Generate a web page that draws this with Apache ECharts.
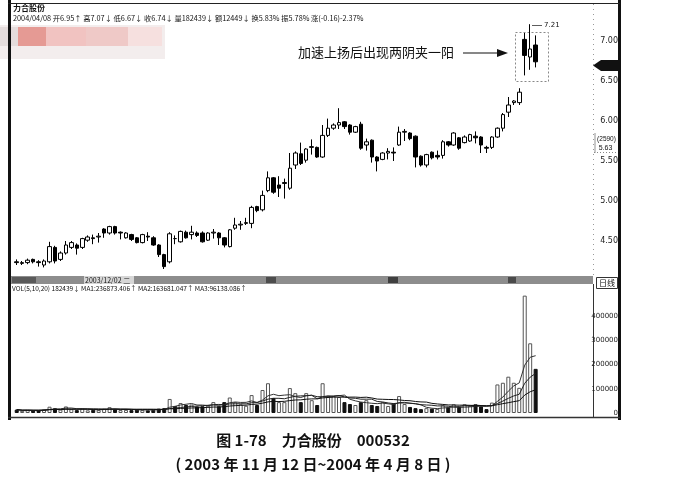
<!DOCTYPE html>
<html>
<head>
<meta charset="utf-8">
<script src="https://cdn.jsdelivr.net/npm/echarts/dist/echarts.min.js"></script>
<style>
html, body { margin: 0; padding: 0; background: #fff; }
#chart { width: 678px; height: 496px; }
</style>
</head>
<body>
<div id="chart"></div>
<script>
// 力合股份 000532, 2003-11-12 ~ 2004-04-08, daily
const dates = [
  '2003/11/12','2003/11/13','2003/11/14','2003/11/17','2003/11/18','2003/11/19','2003/11/20','2003/11/21','2003/11/24','2003/11/25','2003/11/26','2003/11/27','2003/11/28',
  '2003/12/01','2003/12/02','2003/12/03','2003/12/04','2003/12/05','2003/12/08','2003/12/09','2003/12/10','2003/12/11','2003/12/12','2003/12/15','2003/12/16','2003/12/17','2003/12/18','2003/12/19','2003/12/22','2003/12/23','2003/12/24','2003/12/25','2003/12/26','2003/12/29','2003/12/30','2003/12/31',
  '2004/01/05','2004/01/06','2004/01/07','2004/01/08','2004/01/09','2004/01/12','2004/01/13','2004/01/14','2004/01/15','2004/01/16','2004/01/29',
  '2004/02/02','2004/02/03','2004/02/04','2004/02/05','2004/02/06','2004/02/09','2004/02/10','2004/02/11','2004/02/12','2004/02/13','2004/02/16','2004/02/17','2004/02/18','2004/02/19','2004/02/20','2004/02/23','2004/02/24','2004/02/25','2004/02/26','2004/02/27',
  '2004/03/01','2004/03/02','2004/03/03','2004/03/04','2004/03/05','2004/03/08','2004/03/09','2004/03/10','2004/03/11','2004/03/12','2004/03/15','2004/03/16','2004/03/17','2004/03/18','2004/03/19','2004/03/22','2004/03/23','2004/03/24','2004/03/25','2004/03/26','2004/03/29','2004/03/30','2004/03/31',
  '2004/04/01','2004/04/02','2004/04/05','2004/04/06','2004/04/07','2004/04/08'
];

const opens = [
  4.24, 4.22, 4.23, 4.27, 4.24, 4.20, 4.24, 4.42, 4.27, 4.35, 4.42, 4.45, 4.42, 4.51, 4.54, 4.55, 4.65, 4.60, 4.68, 4.61,
  4.54, 4.58, 4.54, 4.48, 4.56, 4.54, 4.45, 4.33, 4.24, 4.53, 4.49, 4.61, 4.58, 4.60, 4.60, 4.51, 4.60, 4.60, 4.54, 4.43,
  4.66, 4.70, 4.72, 4.72, 4.93, 4.89, 5.13, 5.29, 5.20, 5.23, 5.16, 5.45, 5.59, 5.51, 5.67, 5.67, 5.55, 5.82, 5.91, 5.95,
  5.99, 5.95, 5.86, 5.96, 5.70, 5.76, 5.55, 5.52, 5.60, 5.61, 5.70, 5.86, 5.85, 5.81, 5.56, 5.45, 5.61, 5.57, 5.57, 5.74,
  5.70, 5.79, 5.73, 5.75, 5.81, 5.80, 5.67, 5.67, 5.80, 5.91, 6.11, 6.23, 6.23, 7.02, 6.80, 6.95
];
const closes = [
  4.23, 4.23, 4.26, 4.24, 4.23, 4.25, 4.43, 4.25, 4.35, 4.45, 4.48, 4.41, 4.53, 4.55, 4.53, 4.56, 4.60, 4.68, 4.60, 4.60,
  4.60, 4.52, 4.48, 4.58, 4.55, 4.45, 4.33, 4.18, 4.59, 4.53, 4.62, 4.54, 4.61, 4.57, 4.49, 4.60, 4.61, 4.54, 4.45, 4.64,
  4.70, 4.71, 4.73, 4.92, 4.88, 5.07, 5.29, 5.11, 5.16, 5.22, 5.41, 5.60, 5.47, 5.65, 5.68, 5.55, 5.82, 5.91, 5.95, 5.98,
  5.93, 5.86, 5.93, 5.66, 5.74, 5.55, 5.50, 5.60, 5.62, 5.60, 5.86, 5.87, 5.78, 5.55, 5.45, 5.58, 5.54, 5.55, 5.74, 5.70,
  5.85, 5.66, 5.80, 5.83, 5.79, 5.70, 5.66, 5.80, 5.91, 6.08, 6.20, 6.25, 6.36, 6.82, 6.90, 6.74
];
const lows = [
  4.20, 4.20, 4.21, 4.22, 4.18, 4.17, 4.22, 4.22, 4.25, 4.33, 4.40, 4.33, 4.40, 4.49, 4.46, 4.48, 4.54, 4.58, 4.58, 4.52,
  4.53, 4.50, 4.47, 4.47, 4.50, 4.44, 4.30, 4.15, 4.22, 4.46, 4.48, 4.53, 4.52, 4.55, 4.48, 4.50, 4.53, 4.45, 4.42, 4.42,
  4.64, 4.64, 4.70, 4.66, 4.86, 4.87, 5.11, 5.09, 5.05, 5.03, 5.14, 5.40, 5.45, 5.48, 5.58, 5.54, 5.54, 5.80, 5.89, 5.90,
  5.90, 5.83, 5.85, 5.64, 5.63, 5.48, 5.37, 5.51, 5.52, 5.50, 5.69, 5.75, 5.76, 5.42, 5.43, 5.42, 5.52, 5.52, 5.53, 5.68,
  5.69, 5.64, 5.72, 5.74, 5.72, 5.60, 5.60, 5.65, 5.79, 5.87, 6.05, 6.20, 6.20, 6.57, 6.64, 6.67
];
const highs = [
  4.27, 4.25, 4.28, 4.28, 4.26, 4.27, 4.49, 4.44, 4.37, 4.50, 4.50, 4.47, 4.54, 4.57, 4.58, 4.60, 4.66, 4.69, 4.69, 4.62,
  4.61, 4.59, 4.55, 4.59, 4.61, 4.56, 4.46, 4.34, 4.61, 4.57, 4.63, 4.63, 4.69, 4.62, 4.62, 4.61, 4.65, 4.61, 4.55, 4.65,
  4.79, 4.75, 4.79, 4.94, 4.94, 5.13, 5.37, 5.30, 5.31, 5.28, 5.60, 5.62, 5.73, 5.66, 5.77, 5.68, 5.95, 6.03, 5.97, 6.16,
  6.00, 5.96, 5.94, 5.99, 5.78, 5.77, 5.56, 5.61, 5.66, 5.67, 5.93, 5.90, 5.86, 5.82, 5.57, 5.59, 5.62, 5.63, 5.76, 5.75,
  5.86, 5.80, 5.82, 5.84, 5.87, 5.81, 5.69, 5.81, 5.92, 6.10, 6.30, 6.26, 6.41, 7.10, 7.21, 7.07
];
const volumes = [
  14000, 9000, 12000, 10000, 11000, 15000, 26000, 20000, 14000, 27000, 16000, 12000, 18000, 11000, 13000, 12000, 18000, 24000, 15000, 12000,
  13000, 12000, 14000, 12000, 11000, 13000, 18000, 20000, 58000, 29000, 41000, 33000, 35000, 27000, 28000, 30000, 45000, 28000, 45000, 64000,
  45000, 36000, 30000, 74000, 33000, 95000, 123000, 62000, 45000, 45000, 103000, 82000, 45000, 82000, 53000, 33000, 123000, 66000, 70000, 66000,
  45000, 37000, 33000, 45000, 53000, 33000, 29000, 45000, 29000, 40000, 70000, 37000, 25000, 20000, 16000, 20000, 18000, 17000, 32000, 24000,
  36000, 25000, 36000, 30000, 36000, 27000, 16000, 43000, 118000, 125000, 150000, 125000, 104000, 485000, 288000, 182439
];
const volMaDays = [5, 10, 20];

const headerText = '2004/04/08 开6.95↑ 高7.07↓ 低6.67↓ 收6.74↓ 量182439↓ 额12449↓ 换5.83% 振5.78% 涨(-0.16)-2.37%';
const volText = 'VOL(5,10,20) 182439↓ MA1:236873.406↑ MA2:163681.047↑ MA3:96138.086↑';
const noteText = '加速上扬后出现两阴夹一阳';
const captionLines = ['图 1-78\u3000力合股份\u3000000532', '( 2003 年 11 月 12 日~2004 年 4 月 8 日 )'];

const candleData = dates.map((d, i) => [opens[i], closes[i], lows[i], highs[i]]);

// volume bar: hollow when close >= previous close, solid otherwise
const volData = volumes.map((v, i) => {
    const prev = i > 0 ? closes[i - 1] : opens[i];
    const up = closes[i] >= prev;
    return {
        value: v,
        itemStyle: up
            ? { color: '#fff', borderColor: '#555', borderWidth: 1 }
            : { color: '#111', borderColor: '#111', borderWidth: 1 }
    };
});

const movingAvg = (n) => volumes.map((v, i) => {
    const part = volumes.slice(Math.max(0, i - n + 1), i + 1);
    return Math.round(part.reduce((a, b) => a + b, 0) / part.length);
});

const numFont = '"DejaVu Sans", sans-serif';
const narrowFont = '"Liberation Sans", sans-serif';
const cjkFont = '"Noto Sans CJK SC", sans-serif';

const txt = (x, y, text, size, opts = {}) => ({
    type: 'text', x, y, silent: true,
    style: {
        text, font: `${opts.weight || 'normal'} ${size}px ${opts.family || cjkFont}`,
        fill: opts.fill || '#111', textAlign: opts.align || 'left', textVerticalAlign: 'middle'
    }
});
const line = (x1, y1, x2, y2, stroke, w, dash) => ({
    type: 'line', silent: true, shape: { x1, y1, x2, y2 },
    style: { stroke, lineWidth: w, lineDash: dash || null }
});
const rect = (x, y, width, height, style) => ({
    type: 'rect', silent: true, shape: { x, y, width, height }, style
});

const chart = echarts.init(document.getElementById('chart'));

chart.setOption({
    animation: false,
    backgroundColor: '#fff',
    grid: [
        { left: 14, right: 85, top: 1, height: 280 },
        { left: 14, right: 85, top: 292, height: 121 }
    ],
    xAxis: [0, 1].map(g => ({
        type: 'category',
        gridIndex: g,
        data: dates,
        max: 105,
        boundaryGap: true,
        axisLine: { show: false },
        axisTick: { show: false },
        axisLabel: { show: false },
        splitLine: { show: false }
    })),
    yAxis: [
        {
            type: 'value',
            gridIndex: 0,
            position: 'right',
            min: 4,
            max: 7.5,
            interval: 0.5,
            axisLine: { show: false },
            axisTick: { show: false },
            splitLine: { show: false },
            axisLabel: {
                align: 'right',
                margin: 25,
                fontSize: 8,
                fontFamily: numFont,
                color: '#222',
                formatter: v => (v <= 4 || v >= 7.5) ? '' : v.toFixed(2)
            }
        },
        {
            type: 'value',
            gridIndex: 1,
            position: 'right',
            min: 0,
            max: 500000,
            interval: 100000,
            axisLine: { show: false },
            axisTick: { show: false },
            splitLine: { show: false },
            axisLabel: {
                align: 'right',
                margin: 25,
                fontSize: 7,
                fontFamily: numFont,
                color: '#222',
                formatter: v => v >= 500000 ? '' : String(v)
            }
        }
    ],
    series: [
        {
            type: 'candlestick',
            xAxisIndex: 0,
            yAxisIndex: 0,
            data: candleData,
            barWidth: 4,
            itemStyle: {
                color: '#fff',
                color0: '#000',
                borderColor: '#000',
                borderColor0: '#000',
                borderWidth: 1
            }
        },
        {
            type: 'bar',
            xAxisIndex: 1,
            yAxisIndex: 1,
            data: volData,
            barWidth: 4
        },
        ...volMaDays.map((n, k) => ({
            type: 'line',
            xAxisIndex: 1,
            yAxisIndex: 1,
            data: movingAvg(n),
            showSymbol: false,
            z: 5,
            lineStyle: { color: ['#333', '#222', '#111'][k], width: 1 }
        }))
    ],
    graphic: [
        // blurred stamp at top-left
        rect(0, 25, 165, 34, { fill: '#f3eded' }),
        rect(0, 27, 18, 19, { fill: '#e4dcdc' }),
        rect(18, 27, 28, 19, { fill: '#e59a94' }),
        rect(46, 27, 40, 19, { fill: '#f1c3c1' }),
        rect(86, 27, 42, 19, { fill: '#efc9c7' }),
        rect(128, 27, 34, 19, { fill: '#f6e0df' }),

        // frame
        rect(8, 0, 3, 420, { fill: '#111' }),
        rect(618, 0, 3, 420, { fill: '#111' }),
        line(8, 3.5, 620, 3.5, '#222', 1.2),
        line(593.5, 4, 593.5, 276, '#999', 1, [1, 4]),
        line(8, 417.5, 620, 417.5, '#333', 1.5),

        // header
        txt(13, 8, '力合股份', 8, { weight: 'bold' }),
        txt(13, 18, headerText, 7.3),

        // price tag and cursor box on the right
        { type: 'polygon', silent: true, shape: { points: [[593, 65.5], [601, 60], [618, 60], [618, 71], [601, 71]] }, style: { fill: '#111' } },
        txt(606.5, 139, '(2590)', 6.5, { family: narrowFont, align: 'center' }),
        txt(605.5, 148, '5.63', 7, { family: narrowFont, align: 'center' }),
        line(595, 133, 595, 153, '#777', 0.8),
        line(594, 152.5, 618, 152.5, '#888', 1, [1, 2]),

        // note with arrow and box
        txt(298, 52, noteText, 13),
        line(463, 53, 500, 53, '#111', 1.2),
        { type: 'polygon', silent: true, shape: { points: [[497, 49], [508, 53], [497, 57]] }, style: { fill: '#111' } },
        rect(515.5, 32.5, 33, 49, { fill: 'none', stroke: '#888', lineWidth: 1, lineDash: [2, 2] }),
        line(532, 25.5, 542, 25.5, '#333', 0.8),
        txt(544, 25, '7.21', 7, { family: numFont }),

        // volume header strip
        rect(11, 276, 582, 8, { fill: '#8d8d8d' }),
        rect(12, 277, 24, 6, { fill: '#5a5a5a' }),
        rect(266, 277, 10, 6, { fill: '#4d4d4d' }),
        rect(388, 277, 10, 6, { fill: '#3f3f3f' }),
        rect(508, 277, 8, 6, { fill: '#4a4a4a' }),
        rect(84, 276, 50, 8, { fill: '#d6d6d6' }),
        txt(85, 280, '2003/12/02 二', 7, { fill: '#111' }),
        rect(596.5, 277.5, 21, 11, { fill: '#fff', stroke: '#333', lineWidth: 1 }),
        txt(607, 283, '日线', 8, { align: 'center' }),
        txt(12, 289, volText, 6.5),
        line(593.5, 284, 593.5, 417, '#333', 1),

        // caption
        txt(313, 440, captionLines[0], 15, { weight: 'bold', align: 'center' }),
        txt(313, 464, captionLines[1], 15, { weight: 'bold', align: 'center' })
    ]
});
</script>
</body>
</html>
